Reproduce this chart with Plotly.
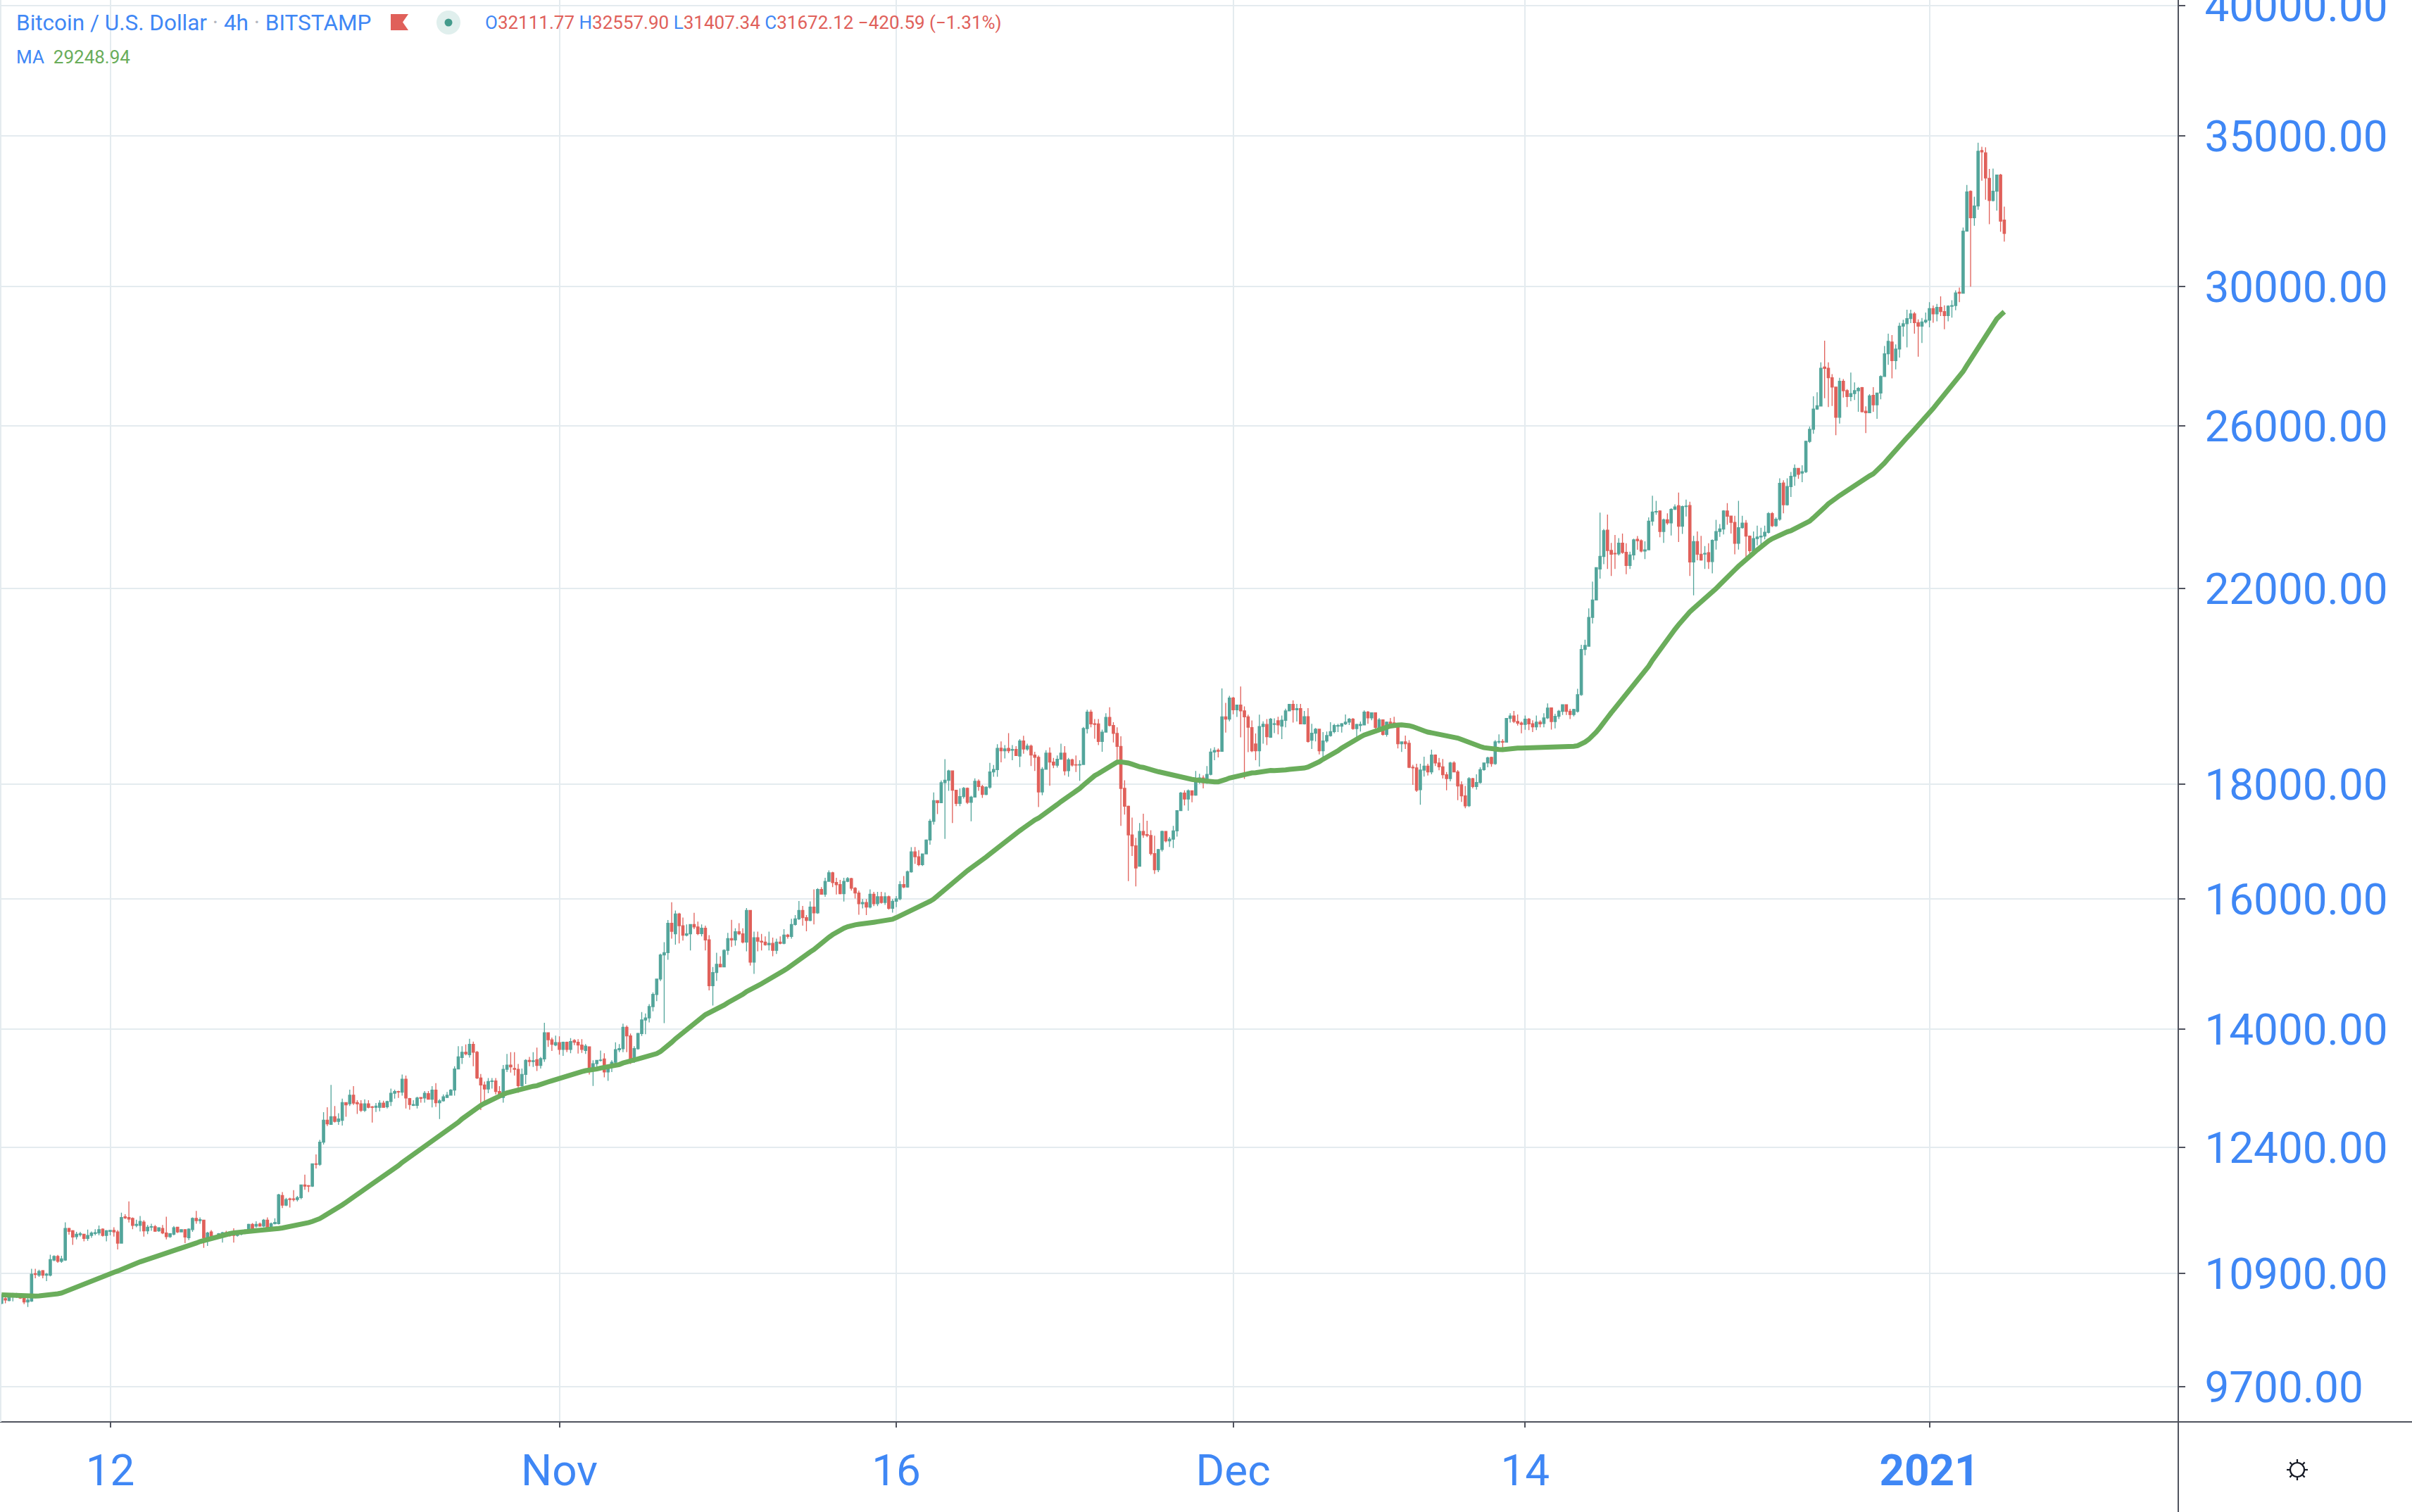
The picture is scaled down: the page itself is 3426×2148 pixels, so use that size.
import math
import pandas as pd
import plotly.graph_objects as go

# BTC/USD Bitstamp, 4h candles, first candle 2020-10-07 04:00
open_ = [
    10570, 10620, 10600, 10645, 10645, 10662,
    10627, 10585, 10593, 10896, 10878, 10930,
    10878, 10878, 11049, 11090, 11036, 11049,
    11414, 11386, 11318, 11340, 11346, 11297,
    11332, 11355, 11360, 11405, 11332, 11380,
    11390, 11373, 11243, 11551, 11543, 11532,
    11450, 11450, 11489, 11386, 11428, 11434,
    11386, 11414, 11360, 11318, 11346, 11428,
    11373, 11400, 11305, 11400, 11532, 11505,
    11510, 11305, 11373, 11324, 11310, 11346,
    11365, 11346, 11340, 11332, 11346, 11368,
    11386, 11461, 11441, 11466, 11441, 11510,
    11414, 11469, 11469, 11805, 11690, 11765,
    11765, 11757, 11780, 11934, 11925, 11920,
    12196, 12190, 12470, 12754, 12700, 12800,
    12738, 12753, 12985, 12970, 13086, 12985,
    12970, 12883, 12970, 12930, 12923, 12923,
    12980, 12930, 13000, 13112, 13134, 13125,
    13302, 13040, 12950, 12950, 13055, 13048,
    13105, 13032, 13153, 12985, 13010, 13054,
    13086, 13153, 13441, 13600, 13675, 13640,
    13785, 13675, 13318, 13223, 13169, 13270,
    13277, 13134, 13054, 13437, 13496, 13448,
    13437, 13213, 13366, 13562, 13545, 13570,
    13490, 13580, 13950, 13850, 13775, 13810,
    13715, 13815, 13715, 13840, 13815, 13775,
    13700, 13750, 13415, 13515, 13560, 13580,
    13400, 13465, 13535, 13710, 13725, 14030,
    13905, 13575, 13725, 13940, 14135, 14165,
    14330, 14510, 14740, 15110, 15145, 15610,
    15440, 15760, 15570, 15420, 15440, 15590,
    15550, 15445, 15530, 15345, 14640, 14840,
    14965, 14925, 15180, 15365, 15345, 15475,
    15440, 15310, 15815, 15000, 15380, 15325,
    15310, 15270, 15290, 15180, 15310, 15290,
    15420, 15400, 15590, 15680, 15815, 15700,
    15655, 15870, 15777, 16160, 16080, 16295,
    16440, 16275, 16240, 16090, 16295, 16340,
    16180, 16100, 15925, 15945, 15870, 16080,
    15925, 16040, 15945, 16040, 15850, 15965,
    16005, 16240, 16200, 16455, 16795, 16710,
    16575, 16760, 17000, 17330, 17700, 17665,
    18030, 18075, 18250, 17890, 17650, 17775,
    17925, 17670, 17765, 18055, 17960, 17815,
    17945, 18230, 18275, 18680, 18630, 18675,
    18640, 18655, 18530, 18820, 18665, 18720,
    18550, 18505, 17860, 18280, 18585, 18415,
    18355, 18470, 18585, 18255, 18460, 18365,
    18360, 18370, 19060, 19385, 19155, 19150,
    18810, 18990, 19280, 19120, 18965, 18715,
    17925, 17600, 17090, 16900, 16550, 17150,
    17095, 17080, 16765, 16490, 16835, 17150,
    16985, 17015, 17160, 17520, 17840, 17730,
    17880, 17800, 18100, 18120, 18030, 18185,
    18605, 18640, 18620, 19290, 19245, 19665,
    19430, 19525, 19410, 19290, 19080, 18760,
    18630, 19100, 19140, 18890, 19140, 19213,
    19107, 19222, 19408, 19540, 19431, 19454,
    19153, 19292, 18833, 18968, 19046, 18630,
    18820, 18923, 19000, 19107, 19107, 19153,
    19185, 19245, 19060, 19120, 19130, 19385,
    19269, 19370, 19084, 19231, 18946, 19185,
    19170, 19107, 18765, 18800, 18774, 18318,
    18305, 17900, 18265, 18340, 18230, 18548,
    18398, 18327, 18177, 18107, 18398, 18230,
    17990, 17788, 17610, 18107, 17960, 18033,
    18274, 18398, 18505, 18385, 18800, 18810,
    18795, 19260, 19306, 19199, 19167, 19140,
    19245, 19153, 19093, 19185, 19160, 19269,
    19468, 19198, 19300, 19400, 19530, 19400,
    19335, 19400, 19735, 20670, 20740, 21360,
    21745, 22450, 22740, 23360, 22880, 22810,
    22800, 23050, 22835, 22530, 22775, 23145,
    23110, 22865, 22895, 23580, 23800, 23825,
    23330, 23610, 23535, 23865, 23955, 23455,
    23935, 23960, 22610, 23090, 22790, 22795,
    22830, 22620, 23120, 23330, 23390, 23825,
    23700, 23550, 23050, 23420, 23530, 23220,
    22875, 23160, 23200, 23220, 23310, 23760,
    23470, 23625, 24520, 23980, 24430, 24690,
    24890, 24770, 24805, 25590, 25910, 26450,
    26535, 27615, 27580, 27315, 27055, 26230,
    27215, 26955, 26795, 26875, 26955, 27040,
    26395, 26350, 26825, 26565, 26890, 27350,
    27995, 28335, 27800, 28130, 28800, 28870,
    29025, 29165, 28905, 28800, 28925, 28975,
    29325, 29165, 29360, 29235, 29115, 29395,
    29415, 29820, 29790, 31750, 33070, 32185,
    32580, 34485, 34400, 33515, 32760, 33075,
    33630, 32111.77,
]

high = [
    10670, 10657, 10670, 10683, 10683, 10670,
    10657, 10657, 10950, 10950, 10940, 10937,
    10904, 11110, 11103, 11108, 11098, 11485,
    11420, 11395, 11373, 11373, 11352, 11400,
    11378, 11405, 11447, 11414, 11395, 11395,
    11428, 11395, 11600, 11580, 11734, 11543,
    11516, 11560, 11510, 11455, 11469, 11455,
    11428, 11455, 11551, 11360, 11441, 11434,
    11405, 11405, 11414, 11543, 11621, 11543,
    11510, 11373, 11395, 11332, 11360, 11373,
    11386, 11360, 11414, 11373, 11386, 11405,
    11469, 11477, 11497, 11483, 11524, 11543,
    11483, 11532, 11825, 11848, 11777, 11780,
    11870, 11800, 11940, 12060, 11934, 12200,
    12313, 12500, 12860, 12924, 13223, 12940,
    12846, 13040, 12990, 13160, 13207, 13017,
    13017, 13030, 13017, 12940, 12980, 13017,
    13010, 13010, 13175, 13160, 13145, 13366,
    13350, 13048, 13017, 13064, 13060, 13140,
    13140, 13207, 13248, 13032, 13096, 13128,
    13166, 13480, 13760, 13760, 13785, 13865,
    13825, 13692, 13372, 13270, 13318, 13318,
    13318, 13207, 13496, 13650, 13675, 13675,
    13512, 13448, 13577, 13610, 13675, 13740,
    13610, 14093, 13950, 13882, 13910, 13900,
    13825, 13825, 13875, 13860, 13860, 13860,
    13790, 13750, 13562, 13562, 13698, 13660,
    13496, 13562, 13815, 13790, 14082, 14055,
    13940, 13760, 13950, 14250, 14230, 14367,
    14540, 14740, 15130, 15310, 15660, 15950,
    15815, 15777, 15700, 15590, 15590, 15777,
    15635, 15590, 15570, 15420, 14925, 15145,
    15090, 15200, 15455, 15665, 15530, 15610,
    15530, 15855, 15815, 15475, 15475, 15440,
    15400, 15475, 15380, 15365, 15400, 15515,
    15440, 15680, 15740, 15970, 15890, 15740,
    15965, 16160, 16180, 16200, 16355, 16480,
    16455, 16355, 16320, 16355, 16365, 16355,
    16200, 16140, 16000, 16000, 16160, 16120,
    16120, 16120, 16110, 16060, 16000, 16050,
    16300, 16385, 16475, 16875, 16880, 16825,
    16760, 17010, 17371, 17850, 17710, 18070,
    18470, 18270, 18250, 17900, 17925, 17950,
    17940, 17790, 18110, 18090, 17990, 17965,
    18400, 18360, 18755, 18810, 18740, 18970,
    18740, 18720, 18855, 18920, 18765, 18750,
    18610, 18540, 18320, 18640, 18695, 18495,
    18540, 18765, 18720, 18495, 18480, 18540,
    18450, 19090, 19430, 19430, 19245, 19245,
    19040, 19360, 19480, 19185, 19085, 18910,
    18075, 17610, 17395, 17040, 17300, 17465,
    17340, 17170, 17075, 16845, 17165, 17160,
    17055, 17250, 17530, 17860, 17890, 17905,
    17880, 18250, 18195, 18165, 18340, 18675,
    18700, 18675, 19860, 19570, 19710, 19690,
    19530, 19900, 19500, 19335, 19220, 18965,
    19335, 19200, 19245, 19269, 19260, 19292,
    19315, 19454, 19549, 19620, 19549, 19549,
    19408, 19463, 19153, 19070, 19046, 18991,
    19000, 19185, 19153, 19153, 19167, 19338,
    19269, 19269, 19153, 19199, 19417, 19408,
    19380, 19370, 19269, 19231, 19199, 19269,
    19292, 19153, 18810, 18923, 18833, 18363,
    18385, 18385, 18517, 18385, 18652, 18562,
    18495, 18473, 18230, 18420, 18430, 18265,
    18055, 17969, 18133, 18120, 18186, 18318,
    18407, 18517, 18517, 18833, 18946, 18856,
    19269, 19361, 19408, 19338, 19199, 19315,
    19269, 19222, 19315, 19222, 19361, 19560,
    19468, 19350, 19427, 19530, 19540, 19450,
    19450, 19855, 20770, 20880, 21560, 22160,
    22480, 23785, 23390, 23740, 23060, 23245,
    23170, 23280, 23050, 22850, 23160, 23220,
    23140, 23095, 23670, 24200, 24075, 23840,
    23640, 23770, 23895, 23990, 24280, 23960,
    24105, 24055, 23225, 23330, 23225, 22985,
    23050, 23140, 23610, 23510, 23845, 24020,
    23710, 23710, 24075, 23710, 23605, 23235,
    23330, 23470, 23420, 23470, 23800, 23800,
    23670, 24640, 24590, 24640, 24800, 24990,
    24890, 24970, 25610, 25980, 26800, 26910,
    27750, 28375, 27750, 27415, 27055, 27315,
    27280, 27000, 27460, 27185, 27060, 27060,
    26525, 26860, 27055, 26890, 27380, 28220,
    28580, 28540, 28265, 28900, 28990, 29290,
    29290, 29220, 29000, 29040, 29205, 29515,
    29415, 29465, 29695, 29420, 29420, 29575,
    29875, 29965, 31865, 33290, 33100, 32890,
    34765, 34620, 34600, 33840, 33855, 33645,
    33670, 32557.90,
]

low = [
    10560, 10570, 10590, 10590, 10630, 10617,
    10560, 10530, 10585, 10844, 10860, 10844,
    10813, 10865, 11036, 11018, 11018, 11040,
    11340, 11223, 11285, 11318, 11264, 11270,
    11305, 11332, 11332, 11318, 11264, 11332,
    11318, 11170, 11237, 11524, 11483, 11405,
    11428, 11378, 11318, 11346, 11386, 11373,
    11373, 11346, 11285, 11305, 11332, 11360,
    11367, 11243, 11278, 11373, 11469, 11469,
    11188, 11210, 11291, 11297, 11291, 11250,
    11332, 11318, 11250, 11318, 11332, 11346,
    11360, 11395, 11422, 11433, 11428, 11405,
    11400, 11460, 11460, 11655, 11678, 11660,
    11734, 11734, 11760, 11876, 11848, 11910,
    12137, 12170, 12440, 12676, 12692, 12722,
    12692, 12683, 12800, 12940, 12955, 12837,
    12862, 12862, 12910, 12722, 12862, 12870,
    12923, 12908, 12940, 13040, 13048, 13080,
    12908, 12892, 12940, 12908, 12985, 12985,
    13024, 12923, 12930, 12769, 12998, 13048,
    13080, 13080, 13441, 13512, 13632, 13600,
    13480, 13302, 12888, 13000, 13112, 13175,
    13096, 13048, 12985, 13400, 13392, 13350,
    13118, 13169, 13236, 13480, 13470, 13415,
    13448, 13540, 13750, 13692, 13760, 13640,
    13625, 13675, 13660, 13775, 13655, 13665,
    13650, 13366, 13210, 13448, 13545, 13328,
    13280, 13400, 13527, 13675, 13675, 13675,
    13512, 13527, 13710, 13905, 13930, 14100,
    14260, 14410, 14710, 14090, 15035, 15365,
    15270, 15290, 15335, 15400, 15180, 15515,
    15420, 15400, 15180, 14570, 14345, 14714,
    14925, 14925, 15110, 15235, 15255, 15420,
    15290, 15165, 14945, 14820, 15165, 15180,
    15255, 15180, 15090, 15125, 15275, 15275,
    15365, 15365, 15570, 15660, 15570, 15480,
    15640, 15590, 15760, 16080, 16040, 16295,
    16200, 16075, 16080, 15960, 16280, 16140,
    16010, 15745, 15850, 15740, 15850, 15885,
    15885, 15925, 15905, 15830, 15780, 15870,
    15980, 16180, 16190, 16440, 16590, 16550,
    16555, 16760, 16920, 17270, 17460, 17665,
    17020, 17880, 17300, 17600, 17600, 17740,
    17640, 17330, 17760, 17880, 17750, 17800,
    17920, 18140, 18140, 18410, 18485, 18585,
    18450, 18540, 18320, 18575, 18630, 18340,
    18250, 17585, 17800, 18270, 17975, 18300,
    18310, 18460, 18165, 18140, 18330, 18230,
    18065, 18370, 18965, 19085, 18860, 18740,
    18610, 18990, 19100, 18790, 18450, 17250,
    17450, 16300, 16725, 16210, 16550, 17040,
    17050, 16735, 16420, 16450, 16800, 16960,
    16880, 16860, 17060, 17520, 17615, 17520,
    17670, 17790, 18010, 17925, 18010, 18165,
    18450, 18505, 18620, 18980, 19200, 19340,
    19290, 18890, 18100, 18605, 18605, 18450,
    18330, 18765, 18740, 18880, 18970, 18946,
    18856, 19084, 19408, 19176, 19199, 19153,
    19140, 18788, 18666, 18810, 18562, 18495,
    18788, 18901, 18968, 18991, 18982, 19130,
    19130, 19037, 18878, 19000, 19130, 19153,
    19222, 19061, 18991, 18923, 18901, 19107,
    19084, 18675, 18608, 18666, 18300, 17990,
    17860, 17626, 18142, 18164, 18186, 18340,
    18260, 18107, 17890, 18055, 18230, 17711,
    17677, 17563, 17584, 17926, 17904, 18012,
    18252, 18318, 18327, 18363, 18765, 18630,
    18788, 19176, 19167, 19120, 18968, 19037,
    19028, 18991, 19028, 19084, 19084, 19245,
    19040, 19065, 19248, 19325, 19325, 19248,
    19300, 19375, 19710, 20545, 20740, 21230,
    21745, 22230, 22560, 22450, 22290, 22450,
    22760, 22800, 22330, 22450, 22660, 22895,
    22835, 22680, 22895, 23470, 23735, 23190,
    23060, 23490, 23235, 23850, 23080, 23270,
    23690, 22290, 21850, 22650, 22640, 22450,
    22450, 22350, 22900, 23200, 23260, 23490,
    23280, 22790, 22900, 23400, 22620, 22700,
    22760, 23000, 22985, 23140, 23280, 23435,
    23440, 23590, 23770, 23960, 24170, 24450,
    24625, 24540, 24770, 25550, 25790, 26430,
    26520, 26745, 26505, 26535, 25750, 26060,
    26765, 26505, 26665, 26700, 26380, 26360,
    25810, 26340, 26380, 26190, 26720, 27350,
    27680, 27300, 27550, 27885, 28490, 28180,
    28890, 28580, 27910, 28305, 28880, 28765,
    28900, 28945, 29100, 28710, 28945, 29050,
    29275, 29520, 29775, 31735, 29990, 31925,
    32450, 33435, 32785, 31975, 32730, 32420,
    31730, 31407.34,
]

close = [
    10655, 10605, 10657, 10662, 10670, 10627,
    10585, 10606, 10891, 10886, 10922, 10878,
    10891, 11054, 11090, 11036, 11062, 11414,
    11378, 11313, 11346, 11352, 11297, 11332,
    11360, 11365, 11400, 11332, 11386, 11390,
    11373, 11243, 11543, 11538, 11524, 11450,
    11461, 11497, 11386, 11428, 11434, 11381,
    11422, 11360, 11318, 11352, 11422, 11373,
    11400, 11313, 11405, 11532, 11505, 11516,
    11305, 11360, 11324, 11305, 11352, 11365,
    11340, 11332, 11332, 11352, 11373, 11386,
    11461, 11405, 11461, 11441, 11510, 11414,
    11469, 11483, 11814, 11690, 11757, 11757,
    11757, 11780, 11934, 11920, 11920, 12196,
    12190, 12470, 12754, 12707, 12800, 12738,
    12769, 12985, 12955, 13086, 12980, 12970,
    12883, 12970, 12923, 12923, 12940, 12980,
    12923, 13000, 13112, 13134, 13128, 13302,
    13048, 12960, 12960, 13048, 13042, 13112,
    13032, 13153, 12985, 13010, 13064, 13086,
    13153, 13441, 13610, 13675, 13653, 13785,
    13675, 13318, 13223, 13169, 13270, 13277,
    13134, 13054, 13437, 13496, 13470, 13437,
    13213, 13366, 13562, 13545, 13555, 13490,
    13585, 13950, 13850, 13785, 13810, 13715,
    13815, 13715, 13825, 13815, 13775, 13715,
    13760, 13415, 13515, 13560, 13565, 13400,
    13465, 13535, 13710, 13725, 14030, 13905,
    13575, 13725, 13940, 14135, 14165, 14330,
    14510, 14740, 15110, 15145, 15610, 15480,
    15760, 15570, 15420, 15440, 15590, 15550,
    15445, 15530, 15345, 14640, 14840, 14965,
    14925, 15180, 15365, 15345, 15475, 15440,
    15310, 15815, 15000, 15380, 15325, 15310,
    15270, 15290, 15180, 15310, 15290, 15420,
    15400, 15590, 15680, 15815, 15700, 15655,
    15870, 15777, 16160, 16080, 16295, 16440,
    16275, 16240, 16090, 16295, 16340, 16180,
    16100, 15925, 15945, 15870, 16080, 15925,
    16040, 15945, 16040, 15850, 15965, 16005,
    16240, 16200, 16455, 16795, 16710, 16575,
    16760, 17000, 17330, 17700, 17665, 18030,
    18075, 18250, 17890, 17650, 17775, 17925,
    17670, 17765, 18055, 17960, 17815, 17945,
    18230, 18275, 18675, 18630, 18665, 18630,
    18655, 18540, 18820, 18665, 18720, 18550,
    18505, 17860, 18280, 18585, 18415, 18360,
    18470, 18585, 18250, 18460, 18360, 18360,
    18370, 19060, 19385, 19150, 19140, 18810,
    18990, 19280, 19120, 18965, 18715, 17925,
    17600, 17090, 16900, 16520, 17150, 17090,
    17080, 16765, 16490, 16835, 17150, 16985,
    17015, 17160, 17520, 17840, 17730, 17880,
    17800, 18100, 18120, 18030, 18185, 18605,
    18635, 18620, 19290, 19245, 19665, 19430,
    19525, 19410, 19290, 19085, 18630, 18630,
    19100, 19145, 18900, 19245, 19155, 19130,
    19222, 19408, 19540, 19431, 19454, 19153,
    19292, 18810, 18968, 19046, 18630, 18820,
    18923, 19000, 19120, 19120, 19153, 19185,
    19245, 19060, 19140, 19140, 19385, 19269,
    19370, 19084, 19231, 18946, 19185, 19140,
    19107, 18765, 18800, 18765, 18318, 18305,
    17890, 18265, 18340, 18230, 18548, 18398,
    18327, 18177, 18107, 18398, 18230, 17969,
    17788, 17605, 18107, 17960, 18033, 18274,
    18398, 18495, 18385, 18800, 18810, 18795,
    19260, 19306, 19199, 19167, 19140, 19245,
    19153, 19093, 19185, 19153, 19269, 19463,
    19198, 19300, 19400, 19530, 19400, 19335,
    19437, 19735, 20670, 20755, 21360, 21745,
    22480, 22740, 23350, 22880, 22790, 22800,
    23050, 22835, 22530, 22775, 23130, 23110,
    22865, 22895, 23580, 23800, 23815, 23330,
    23610, 23535, 23865, 23925, 23455, 23935,
    23945, 22610, 23090, 22790, 22655, 22810,
    22620, 23120, 23330, 23390, 23825, 23700,
    23550, 23050, 23420, 23530, 23220, 22875,
    23160, 23200, 23220, 23310, 23760, 23470,
    23625, 24510, 23980, 24430, 24690, 24890,
    24740, 24805, 25590, 25910, 26450, 26540,
    27580, 27580, 27315, 27055, 26230, 27215,
    26955, 26795, 26875, 26955, 27020, 26380,
    26350, 26810, 26565, 26890, 27350, 27995,
    28355, 27800, 28130, 28800, 28870, 29025,
    29165, 28905, 28800, 28925, 28975, 29325,
    29165, 29360, 29235, 29115, 29395, 29415,
    29800, 29790, 31750, 33050, 32185, 32580,
    34460, 34435, 33530, 32760, 33075, 33630,
    32075, 31672.12,
]

# closes of the 49 candles before the window (Sep 29 - Oct 7 00:00), only to start the MA
close_before = [
    10740, 10760, 10790, 10800, 10780, 10790,
    10760, 10740, 10730, 10760, 10740, 10750,
    10760, 10790, 10800, 10620, 10560, 10580,
    10550, 10500, 10420, 10480, 10540, 10570,
    10560, 10580, 10560, 10550, 10540, 10560,
    10560, 10580, 10600, 10640, 10660, 10670,
    10680, 10700, 10720, 10760, 10780, 10790,
    10760, 10740, 10720, 10620, 10600, 10590,
    10600,
]
ma_period = 50

price_ticks = [9700, 10900, 12400, 14000, 16000, 18000, 22000, 26000, 30000, 35000, 40000]
date_ticks = ["2020-10-12", "2020-11-01", "2020-11-16", "2020-12-01", "2020-12-14", "2021-01-01"]
date_labels = ["12", "Nov", "16", "Dec", "14", "<b>2021</b>"]

UP = "#53a59b"
DOWN = "#e0605a"
MA_GREEN = "#6aad5b"
BLUE = "#3f87f5"
GRID = "#e4ebef"
AXIS = "#50535e"
FONT = "Roboto, sans-serif"

W, H = 3426, 2148
PLOT_W, PLOT_H = 3094, 2020


def px(x):
    return x / PLOT_W


def py(y):
    return (PLOT_H - y) / PLOT_H


times = pd.date_range("2020-10-07 04:00", periods=len(close), freq="4h")
all_close = pd.Series(close_before + close, dtype=float)
ma = all_close.rolling(ma_period).mean().iloc[len(close_before):].to_numpy()

fig = go.Figure()
fig.add_trace(go.Candlestick(
    x=times, open=open_, high=high, low=low, close=close,
    increasing=dict(line=dict(color=UP, width=1.3), fillcolor=UP),
    decreasing=dict(line=dict(color=DOWN, width=1.3), fillcolor=DOWN),
    whiskerwidth=0, hoverinfo="skip", showlegend=False,
))
fig.add_trace(go.Scatter(
    x=times, y=ma, mode="lines",
    line=dict(color=MA_GREEN, width=7),
    hoverinfo="skip", showlegend=False,
))

fig.update_layout(
    width=W, height=H,
    margin=dict(l=0, r=W - PLOT_W, t=0, b=H - PLOT_H),
    paper_bgcolor="white", plot_bgcolor="white",
    showlegend=False, hovermode=False,
    boxgap=0.2, boxgroupgap=0.22,
    font=dict(family=FONT),
    xaxis=dict(
        type="date", automargin=False,
        range=["2020-10-07 02:16", "2021-01-12 01:54"],
        rangeslider=dict(visible=False),
        tickvals=date_ticks, ticktext=date_labels,
        showgrid=True, gridcolor=GRID, gridwidth=2,
        ticks="outside", ticklen=7, tickwidth=1.5, tickcolor=AXIS,
        ticklabelstandoff=8,
        tickfont=dict(size=62, color=BLUE, family=FONT),
        showline=False, zeroline=False,
    ),
    yaxis=dict(
        type="log", side="right", automargin=False,
        range=[math.log10(9359), math.log10(40243)],
        tickvals=price_ticks, ticktext=[f"{v:.2f}" for v in price_ticks],
        showgrid=True, gridcolor=GRID, gridwidth=2,
        ticks="outside", ticklen=9, tickwidth=2, tickcolor=AXIS,
        ticklabelstandoff=15, ticklabeloverflow="allow",
        tickfont=dict(size=62, color=BLUE, family=FONT),
        showline=False, zeroline=False,
    ),
)

# axis borders, flag icon, status dot
fig.add_shape(type="line", xref="paper", yref="paper", x0=0, x1=px(W), y0=0, y1=0,
              line=dict(color=AXIS, width=2))
fig.add_shape(type="line", xref="paper", yref="paper", x0=1, x1=1, y0=py(H), y1=1,
              line=dict(color=AXIS, width=2))
fig.add_shape(type="line", xref="paper", yref="paper", x0=px(1), x1=px(1), y0=0, y1=1,
              line=dict(color=GRID, width=2))
fig.add_shape(type="path", xref="paper", yref="paper",
              path=f"M {px(555)},{py(20)} L {px(580)},{py(20)} L {px(572)},{py(31.5)} "
                   f"L {px(580)},{py(43)} L {px(555)},{py(43)} Z",
              fillcolor=DOWN, line=dict(width=0))
fig.add_shape(type="circle", xref="paper", yref="paper",
              x0=px(620), x1=px(654), y0=py(49), y1=py(15),
              fillcolor="#e0efed", line=dict(width=0))
fig.add_shape(type="circle", xref="paper", yref="paper",
              x0=px(631.5), x1=px(642.5), y0=py(37.5), y1=py(26.5),
              fillcolor="#449b8c", line=dict(width=0))

# settings (sun) icon below the price scale
sun_x, sun_y = 3263, 2088
fig.add_shape(type="circle", xref="paper", yref="paper",
              x0=px(sun_x - 10), x1=px(sun_x + 10), y0=py(sun_y + 10), y1=py(sun_y - 10),
              line=dict(color="#131722", width=2.2))
for k in range(8):
    a = k * math.pi / 4
    fig.add_shape(type="line", xref="paper", yref="paper",
                  x0=px(sun_x + 11 * math.cos(a)), x1=px(sun_x + 15 * math.cos(a)),
                  y0=py(sun_y + 11 * math.sin(a)), y1=py(sun_y + 15 * math.sin(a)),
                  line=dict(color="#131722", width=2.2))

dot = "<span style='color:#b2b5be'> · </span>"
red = DOWN


def seg(letter, value):
    return f"<span style='color:{BLUE}'>{letter}</span><span style='color:{red}'>{value}</span>"


header = [
    (21, 32, f"Bitcoin / U.S. Dollar{dot}4h{dot}BITSTAMP", BLUE, 31.5),
    (687, 32, " ".join([seg("O", "32111.77"), seg("H", "32557.90"), seg("L", "31407.34"),
                        seg("C", "31672.12")]) + f"<span style='color:{red}'> −420.59 (−1.31%)</span>", red, 26),
    (21, 81, f"MA&nbsp;&nbsp;<span style='color:{MA_GREEN}'>29248.94</span>", BLUE, 26),
]
for x, y, text, color, size in header:
    fig.add_annotation(x=px(x), y=py(y), xref="paper", yref="paper", text=text,
                       showarrow=False, xanchor="left", yanchor="middle",
                       font=dict(size=size, color=color, family=FONT))

fig.write_html("out.html", config={"displayModeBar": False},
               post_script="document.body.style.margin = '0';")
